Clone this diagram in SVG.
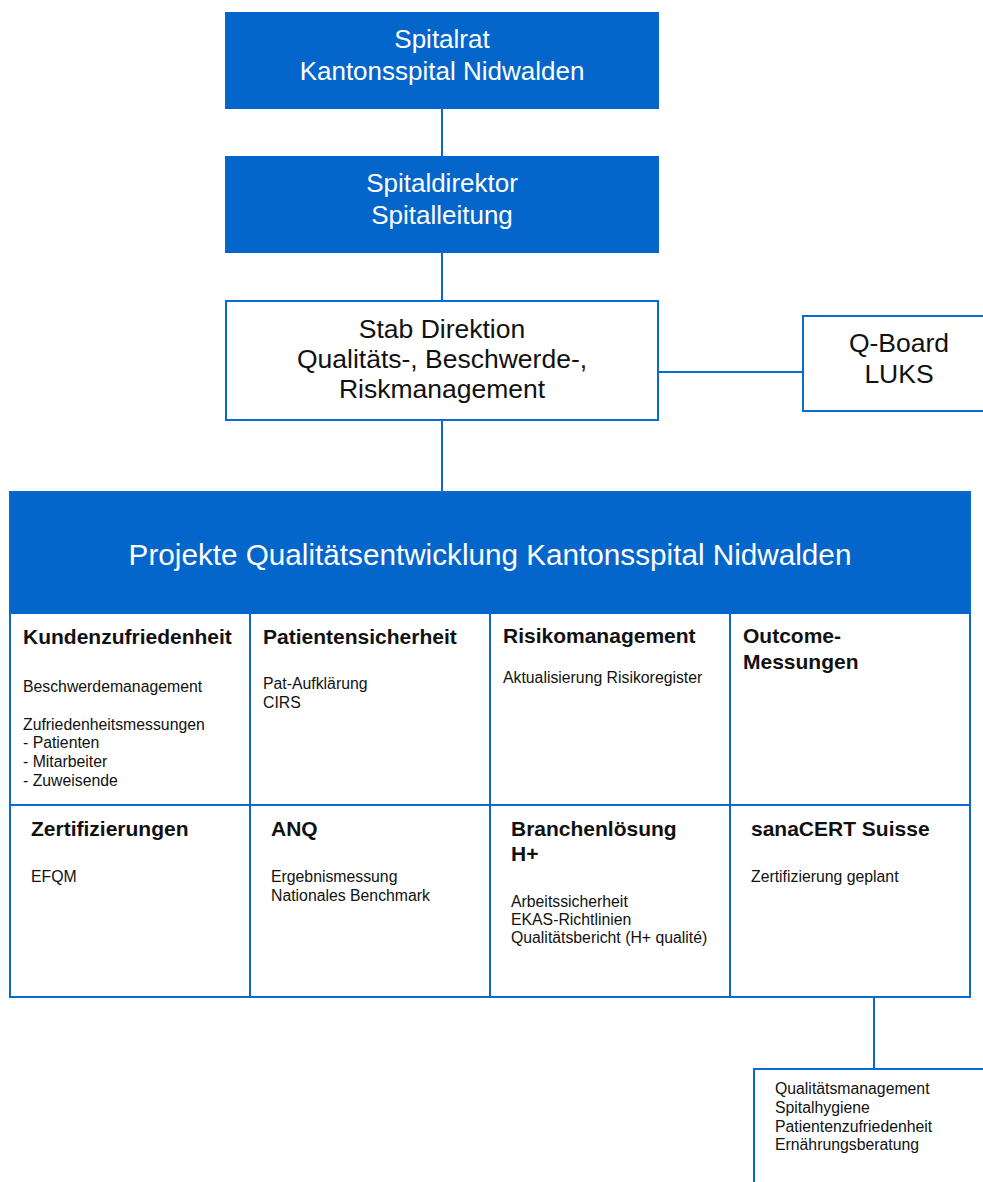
<svg xmlns="http://www.w3.org/2000/svg" width="983" height="1182" viewBox="0 0 983 1182">
<style>
.fill{fill:#0466CB;}
.box{fill:#fff;stroke:#0A6AD2;stroke-width:2;}
.ln{stroke:#0A6AD2;stroke-width:2;fill:none;}
text{font-family:"Liberation Sans",Arial,Helvetica,sans-serif;}
.wt{fill:#fff;font-size:26px;text-anchor:middle;}
.bt{fill:#111;font-size:26.5px;text-anchor:middle;}
.hd{fill:#111;font-size:21px;font-weight:bold;}
.bd{fill:#111;font-size:15.8px;}
</style>
<rect width="983" height="1182" fill="#fff"/>
<g id="connectors">
<line class="ln" x1="442" y1="109" x2="442" y2="156"/>
<line class="ln" x1="442" y1="253" x2="442" y2="301"/>
<line class="ln" x1="658" y1="372" x2="803" y2="372"/>
<line class="ln" x1="442" y1="420" x2="442" y2="492"/>
<line class="ln" x1="874" y1="997" x2="874" y2="1069"/>
</g>
<g id="spitalrat">
<rect class="fill" x="225" y="12" width="434" height="97"/>
<text class="wt" x="442" y="48">Spitalrat</text>
<text class="wt" x="442" y="80">Kantonsspital Nidwalden</text>
</g>
<g id="spitaldirektor">
<rect class="fill" x="225" y="156" width="434" height="97"/>
<text class="wt" x="442" y="192">Spitaldirektor</text>
<text class="wt" x="442" y="224">Spitalleitung</text>
</g>
<g id="stab">
<rect class="box" x="226" y="301" width="432" height="119"/>
<text class="bt" x="442" y="338">Stab Direktion</text>
<text class="bt" x="442" y="368">Qualitäts-, Beschwerde-,</text>
<text class="bt" x="442" y="398">Riskmanagement</text>
</g>
<g id="qboard">
<rect class="box" x="803" y="316" width="200" height="95"/>
<text class="bt" x="899" y="352">Q-Board</text>
<text class="bt" x="899" y="383">LUKS</text>
</g>
<g id="projekte">
<rect class="fill" x="10" y="492" width="960" height="122"/>
<text x="490" y="565" fill="#fff" font-size="29.7" text-anchor="middle">Projekte Qualitätsentwicklung Kantonsspital Nidwalden</text>
<rect class="ln" x="10" y="492" width="960" height="505"/>
<line class="ln" x1="10" y1="805" x2="970" y2="805"/>
<line class="ln" x1="250" y1="614" x2="250" y2="997"/>
<line class="ln" x1="490" y1="614" x2="490" y2="997"/>
<line class="ln" x1="730" y1="614" x2="730" y2="997"/>
</g>
<g id="kundenzufriedenheit">
<text class="hd" x="23" y="644">Kundenzufriedenheit</text>
<text class="bd" x="23" y="692">Beschwerdemanagement</text>
<text class="bd" x="23" y="730">Zufriedenheitsmessungen</text>
<text class="bd" x="23" y="748">- Patienten</text>
<text class="bd" x="23" y="767">- Mitarbeiter</text>
<text class="bd" x="23" y="786">- Zuweisende</text>
</g>
<g id="patientensicherheit">
<text class="hd" x="263" y="644">Patientensicherheit</text>
<text class="bd" x="263" y="689">Pat-Aufklärung</text>
<text class="bd" x="263" y="708">CIRS</text>
</g>
<g id="risikomanagement">
<text class="hd" x="503" y="643">Risikomanagement</text>
<text class="bd" x="503" y="683">Aktualisierung Risikoregister</text>
</g>
<g id="outcome">
<text class="hd" x="743" y="643">Outcome-</text>
<text class="hd" x="743" y="669">Messungen</text>
</g>
<g id="zertifizierungen">
<text class="hd" x="31" y="836">Zertifizierungen</text>
<text class="bd" x="31" y="882">EFQM</text>
</g>
<g id="anq">
<text class="hd" x="271" y="836">ANQ</text>
<text class="bd" x="271" y="882">Ergebnismessung</text>
<text class="bd" x="271" y="901">Nationales Benchmark</text>
</g>
<g id="branchenloesung">
<text class="hd" x="511" y="836">Branchenlösung</text>
<text class="hd" x="511" y="861">H+</text>
<text class="bd" x="511" y="907">Arbeitssicherheit</text>
<text class="bd" x="511" y="925">EKAS-Richtlinien</text>
<text class="bd" x="511" y="943">Qualitätsbericht (H+ qualité)</text>
</g>
<g id="sanacert">
<text class="hd" x="751" y="836">sanaCERT Suisse</text>
<text class="bd" x="751" y="882">Zertifizierung geplant</text>
</g>
<g id="bereiche">
<rect class="box" x="754" y="1069" width="260" height="140"/>
<text class="bd" x="775" y="1094">Qualitätsmanagement</text>
<text class="bd" x="775" y="1113">Spitalhygiene</text>
<text class="bd" x="775" y="1132">Patientenzufriedenheit</text>
<text class="bd" x="775" y="1150">Ernährungsberatung</text>
</g>
</svg>
